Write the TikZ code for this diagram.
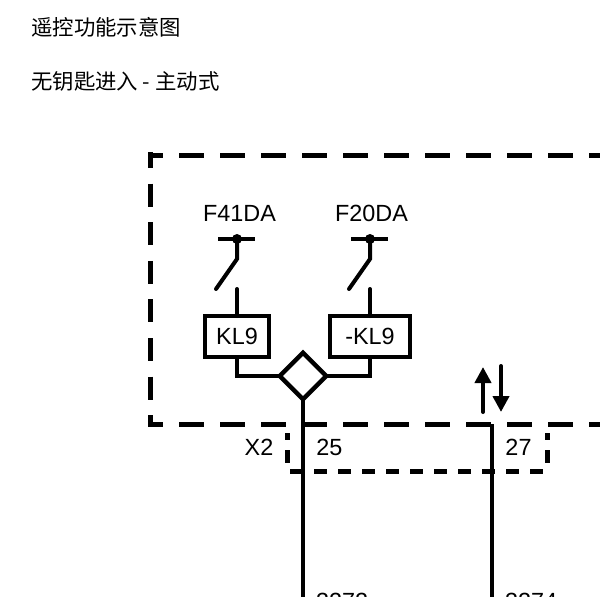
\documentclass[tikz,border=0pt]{standalone}
\usepackage{fontspec}
\setmainfont{Liberation Sans}
\newfontfamily\cjk{Noto Sans CJK SC}
\usepackage{xcolor}
\usepackage{tikz}
\usetikzlibrary{arrows.meta,calc,shapes.geometric}
\tikzset{
  wire/.style={line width=4pt,line join=miter},
  lbl/.style={inner sep=0pt,font=\fontsize{23.4}{26}\selectfont},
  title/.style={inner sep=0pt,anchor=west,font=\cjk\fontsize{21.4}{24}\selectfont},
  boundaryh/.style={line width=5pt,dash pattern=on 25pt off 16pt,dash phase=10pt},
  boundaryv/.style={line width=5pt,dash pattern=on 23pt off 15.6pt,dash phase=7pt},
  plugh/.style={line width=5pt,dash pattern=on 12.5pt off 11.5pt},
  plugv/.style={line width=5pt,dash pattern=on 13pt off 10pt,dash phase=6pt},
  relay/.style={draw,line width=4pt,minimum height=41pt,inner sep=0pt,font=\fontsize{23.4}{26}\selectfont},
  dirarrow/.style={line width=4pt,line cap=round,-{Triangle[length=16pt,width=16pt]}},
}
\begin{document}
\begin{tikzpicture}[x=1pt,y=-1pt]
    \useasboundingbox (0,0) rectangle (600,597);
    % Titles
    \node[title] (titleA) at (31,27) {遥控功能示意图};
    \node[title] (titleB) at (31,81) {无钥匙进入 - 主动式};
    % Control unit outline
    \draw[boundaryh] (148,155) -- (600,155);
    \draw[boundaryv] (150.5,152) -- (150.5,426);
    \draw[boundaryh] (148,424) -- (600,424);
    % Connector outline
    \draw[plugh] (290,471) -- (543,471);
    \draw[plugv] (287,433) -- (287,463);
    \draw[plugv] (547,433) -- (547,463);
    % Switches
    \foreach \name/\cx/\tx/\txt in {a/237/239.5/F41DA,b/370/371.5/F20DA}{
      \node[lbl] (sw\name) at (\tx,213) {\txt};
      \draw[line width=3.6pt] (\cx-19,239) -- (\cx+18,239);
      \fill (\cx,239) circle (5pt);
      \draw[wire,line cap=round] (\cx,239) -- (\cx,259) -- (\cx-21,289);
      \draw[wire,line cap=round] (\cx,289) -- (\cx,316);
    }
    % Relays
    \node[relay,minimum width=64.5pt] (kla) at (237,336.5) {KL9};
    \node[relay,minimum width=80pt] (klb) at (370,336.5) {-KL9};
    % Junction
    \node[draw,diamond,aspect=1,line width=4.5pt,minimum size=46.5pt,inner sep=0pt,outer sep=0pt] (junc) at (303,376) {};
    \draw[wire] (kla.south) |- (junc.west);
    \draw[wire] (klb.south) |- (junc.east);
    % Wires
    \coordinate (wireaend) at (303,597);
    \coordinate (wirebtop) at (491.5,424);
    \coordinate (wirebend) at (491.5,597);
    \draw[wire] (junc.south) -- (wireaend);
    \draw[wire] (wirebtop) -- (wirebend);
    % Direction arrows
    \draw[dirarrow] (483,412) -- (483,367);
    \draw[dirarrow] (501,366) -- (501,412);
    % Labels
    \node[lbl] (xtwo) at (259,447) {X2};
    \node[lbl] (pina) at (329.5,447) {25};
    \node[lbl] (pinb) at (518.5,447) {27};
    \node[lbl,anchor=west] (wirea) at (316,601) {3272};
    \node[lbl,anchor=west] (wireb) at (505,601) {3274};
\end{tikzpicture}
\end{document}
